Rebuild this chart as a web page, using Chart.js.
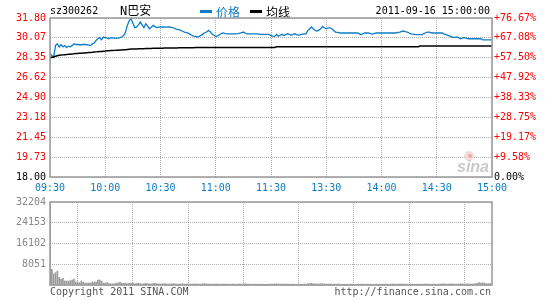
<!DOCTYPE html>
<html>
<head>
<meta charset="utf-8">
<script src="https://cdn.jsdelivr.net/npm/chart.js"></script>
<style>
body { margin: 0; background: #fff; }
#wrap { position: relative; width: 545px; height: 300px; }
canvas { position: absolute; left: 0; }
#price { top: 0; }
#volume { top: 190px; }
</style>
</head>
<body>
<div id="wrap">
<canvas id="price" width="545" height="200"></canvas>
<canvas id="volume" width="545" height="110"></canvas>
</div>
<script>
// 1-minute trading data, 09:30 - 11:30 and 13:00 - 15:00 (241 points)
var xLabels = ['09:30', '10:00', '10:30', '11:00', '11:30', '13:30', '14:00', '14:30', '15:00'];
var priceTicks = [18.00, 19.725, 21.45, 23.175, 24.90, 26.625, 28.35, 30.075, 31.80];
var priceLabels = ['18.00', '19.73', '21.45', '23.18', '24.90', '26.62', '28.35', '30.07', '31.80'];
var pctLabels = ['0.00%', '+9.58%', '+19.17%', '+28.75%', '+38.33%', '+47.92%', '+57.50%', '+67.08%', '+76.67%'];
var volTicks = [0, 8051, 16102, 24153, 32204];
var volLabels = ['', '8051', '16102', '24153', '32204'];

var price = [
    28.70, 28.55, 28.40, 29.42, 29.57, 29.28, 29.50, 29.30, 29.40, 29.22,
    29.35, 29.30, 29.40, 29.57, 29.50, 29.50, 29.48, 29.48, 29.50, 29.50,
    29.48, 29.45, 29.42, 29.55, 29.63, 29.85, 30.00, 30.09, 29.91, 30.15,
    30.10, 30.05, 30.00, 30.09, 30.05, 30.05, 30.06, 30.06, 30.09, 30.15,
    30.29, 30.58, 31.16, 31.55, 31.74, 31.36, 30.96, 31.00, 31.20, 31.45,
    31.20, 30.96, 31.30, 31.10, 30.87, 31.00, 31.16, 31.05, 30.96, 31.00,
    31.02, 31.02, 31.02, 31.00, 31.02, 31.02, 30.98, 30.95, 30.87, 30.82,
    30.78, 30.72, 30.65, 30.58, 30.52, 30.48, 30.40, 30.30, 30.22, 30.20,
    30.15, 30.20, 30.29, 30.40, 30.52, 30.58, 30.72, 30.60, 30.40, 30.30,
    30.20, 30.25, 30.35, 30.45, 30.50, 30.45, 30.43, 30.43, 30.43, 30.42,
    30.43, 30.43, 30.45, 30.48, 30.52, 30.58, 30.50, 30.43, 30.43, 30.43,
    30.43, 30.43, 30.43, 30.43, 30.38, 30.38, 30.38, 30.38, 30.38, 30.38,
    30.26, 30.22, 30.20, 30.38, 30.22, 30.30, 30.38, 30.28, 30.35, 30.43,
    30.38, 30.30, 30.38, 30.43, 30.35, 30.29, 30.35, 30.40, 30.42, 30.43,
    30.70, 30.87, 31.02, 30.85, 30.72, 30.66, 30.75, 30.87, 31.07, 30.95,
    30.87, 30.95, 30.95, 30.87, 30.72, 30.58, 30.55, 30.52, 30.50, 30.50,
    30.50, 30.50, 30.50, 30.50, 30.50, 30.50, 30.50, 30.50, 30.42, 30.35,
    30.45, 30.50, 30.50, 30.50, 30.45, 30.40, 30.45, 30.50, 30.50, 30.50,
    30.50, 30.50, 30.50, 30.50, 30.50, 30.50, 30.50, 30.50, 30.50, 30.55,
    30.58, 30.63, 30.67, 30.62, 30.58, 30.50, 30.43, 30.40, 30.37, 30.35,
    30.35, 30.35, 30.35, 30.45, 30.52, 30.58, 30.58, 30.52, 30.50, 30.50,
    30.50, 30.50, 30.50, 30.50, 30.40, 30.35, 30.30, 30.25, 30.15, 30.12,
    30.12, 30.15, 30.08, 30.00, 30.05, 30.10, 30.05, 30.00, 30.00, 30.00,
    30.00, 30.00, 30.00, 30.00, 30.00, 29.91, 29.91, 29.91, 29.91, 29.91, 29.91
];

var avgPrice = [
    28.35, 28.40, 28.42, 28.48, 28.53, 28.56, 28.58, 28.60, 28.62, 28.63,
    28.65, 28.66, 28.68, 28.69, 28.71, 28.72, 28.74, 28.75, 28.76, 28.77,
    28.79, 28.80, 28.81, 28.82, 28.84, 28.86, 28.88, 28.89, 28.90, 28.92,
    28.93, 28.95, 28.96, 28.97, 28.98, 28.99, 29.00, 29.01, 29.02, 29.03,
    29.04, 29.05, 29.07, 29.09, 29.10, 29.11, 29.12, 29.12, 29.13, 29.13,
    29.14, 29.14, 29.15, 29.15, 29.16, 29.16, 29.17, 29.17, 29.17, 29.18,
    29.18, 29.18, 29.19, 29.19, 29.19, 29.20, 29.20, 29.20, 29.20, 29.20,
    29.21, 29.21, 29.21, 29.21, 29.22, 29.22, 29.22, 29.22, 29.22, 29.23,
    29.23, 29.23, 29.23, 29.23, 29.23, 29.24, 29.24, 29.24, 29.24, 29.24,
    29.24, 29.24, 29.24, 29.24, 29.24, 29.25, 29.25, 29.25, 29.25, 29.25,
    29.25, 29.25, 29.25, 29.25, 29.25, 29.25, 29.25, 29.25, 29.25, 29.25,
    29.25, 29.25, 29.25, 29.25, 29.25, 29.25, 29.25, 29.25, 29.25, 29.25,
    29.25, 29.25, 29.25, 29.30, 29.30, 29.30, 29.30, 29.30, 29.30, 29.30,
    29.30, 29.30, 29.30, 29.30, 29.30, 29.30, 29.30, 29.30, 29.30, 29.30,
    29.30, 29.30, 29.30, 29.30, 29.30, 29.30, 29.30, 29.30, 29.30, 29.30,
    29.30, 29.30, 29.30, 29.30, 29.30, 29.30, 29.30, 29.30, 29.30, 29.30,
    29.30, 29.30, 29.30, 29.30, 29.30, 29.30, 29.30, 29.30, 29.30, 29.30,
    29.30, 29.30, 29.30, 29.30, 29.30, 29.30, 29.30, 29.30, 29.30, 29.30,
    29.30, 29.30, 29.30, 29.30, 29.30, 29.30, 29.30, 29.30, 29.30, 29.30,
    29.30, 29.30, 29.30, 29.30, 29.30, 29.30, 29.30, 29.30, 29.30, 29.30,
    29.30, 29.36, 29.36, 29.36, 29.36, 29.36, 29.36, 29.36, 29.36, 29.36,
    29.36, 29.36, 29.36, 29.36, 29.36, 29.36, 29.36, 29.36, 29.36, 29.36,
    29.36, 29.36, 29.36, 29.36, 29.36, 29.36, 29.36, 29.36, 29.36, 29.36,
    29.36, 29.36, 29.36, 29.36, 29.36, 29.36, 29.36, 29.36, 29.36, 29.36, 29.36
];

var volume = [
    32204, 6100, 4270, 4770, 5430, 2980, 2200, 2600, 1550, 1550,
    1550, 1650, 1940, 2330, 1160, 1160, 900, 1550, 1160, 770,
    770, 770, 770, 1160, 1160, 1160, 1940, 1940, 1550, 770,
    770, 900, 520, 400, 450, 450, 770, 770, 1160, 640,
    640, 770, 520, 640, 770, 640, 520, 640, 770, 520,
    400, 520, 640, 520, 400, 450, 520, 640, 520, 450,
    400, 400, 520, 450, 400, 390, 450, 520, 400, 390,
    350, 400, 450, 390, 350, 400, 390, 350, 400, 450,
    390, 350, 400, 450, 520, 400, 390, 350, 310, 350,
    400, 390, 350, 310, 350, 390, 350, 310, 300, 350,
    310, 300, 350, 390, 350, 400, 450, 390, 350, 310,
    300, 350, 310, 300, 350, 310, 300, 280, 300, 310,
    350, 400, 390, 450, 400, 350, 310, 350, 390, 350,
    300, 310, 350, 300, 310, 350, 300, 280, 310, 350,
    450, 520, 660, 520, 450, 400, 450, 520, 450, 400,
    350, 390, 400, 350, 310, 300, 350, 310, 300, 280,
    300, 310, 300, 350, 310, 300, 280, 300, 310, 350,
    310, 300, 350, 310, 300, 280, 300, 310, 300, 280,
    300, 310, 350, 310, 300, 350, 390, 350, 310, 350,
    390, 400, 350, 310, 350, 300, 310, 350, 310, 300,
    350, 310, 300, 350, 390, 350, 310, 300, 350, 310,
    300, 350, 390, 400, 450, 390, 350, 400, 450, 390,
    350, 400, 390, 450, 400, 350, 390, 450, 400, 390,
    450, 520, 660, 900, 770, 900, 660, 520, 450, 520, 640
];

var mono = '"DejaVu Sans Mono", monospace';
var cjk = '"Noto Sans CJK SC", sans-serif';
var blue = '#0b7cc8';
var gridColor = '#b0b0b0';

function points(arr) {
    return arr.map(function (v, i) { return { x: i, y: v }; });
}

var frame = {
    id: 'frame',
    afterDraw: function (chart) {
        var a = chart.chartArea, c = chart.ctx;
        c.save();
        c.strokeStyle = '#999';
        c.lineWidth = 1.5;
        c.strokeRect(a.left, a.top, a.right - a.left, a.bottom - a.top);
        c.restore();
    }
};

var header = {
    id: 'header',
    beforeDatasetsDraw: function (chart) {
        var c = chart.ctx;
        c.save();
        // sina watermark
        c.fillStyle = '#f6dada';
        c.beginPath();
        c.arc(469, 156, 5, 0, Math.PI * 2);
        c.fill();
        c.fillStyle = '#eaa8a8';
        c.beginPath();
        c.arc(470, 156, 2, 0, Math.PI * 2);
        c.fill();
        c.font = 'italic bold 16px "Liberation Sans"';
        c.fillStyle = '#cacaca';
        c.textAlign = 'right';
        c.textBaseline = 'alphabetic';
        c.fillText('sina', 489, 172);
        c.restore();
    },
    afterDraw: function (chart) {
        var c = chart.ctx;
        c.save();
        c.textBaseline = 'middle';
        c.textAlign = 'left';
        c.fillStyle = '#000';
        c.font = '10px ' + mono;
        c.fillText('sz300262', 50, 11);
        c.font = '12px "DejaVu Sans Mono", "Noto Sans CJK SC"';
        c.fillText('N巴安', 120, 12);

        c.fillStyle = blue;
        c.fillRect(200, 10, 12, 3);
        c.font = '12px ' + cjk;
        c.fillText('价格', 216, 12);
        c.fillStyle = '#000';
        c.fillRect(250, 10, 12, 3);
        c.fillText('均线', 266, 12);

        c.font = '10px ' + mono;
        c.textAlign = 'right';
        c.fillText('2011-09-16 15:00:00', 490, 11);
        c.restore();
    }
};

var footer = {
    id: 'footer',
    afterDraw: function (chart) {
        var c = chart.ctx;
        c.save();
        c.textBaseline = 'middle';
        c.font = '10px ' + mono;
        c.fillStyle = '#555';
        c.textAlign = 'left';
        c.fillText('Copyright 2011 SINA.COM', 50, 102);
        c.textAlign = 'right';
        c.fillText('http://finance.sina.com.cn', 491, 102);
        c.restore();
    }
};

var priceChart = new Chart(document.getElementById('price'), {
    type: 'line',
    data: {
        datasets: [{
            label: '均线',
            data: points(avgPrice),
            borderColor: '#000',
            borderWidth: 1.5,
            pointRadius: 0,
            fill: false
        }, {
            label: '价格',
            data: points(price),
            borderColor: blue,
            borderWidth: 1.3,
            pointRadius: 0,
            fill: false
        }]
    },
    options: {
        responsive: false,
        animation: false,
        devicePixelRatio: 1,
        layout: { padding: { top: 18, left: 0, right: 0, bottom: 0 } },
        plugins: { legend: { display: false }, tooltip: { enabled: false } },
        scales: {
            x: {
                type: 'linear',
                min: 0,
                max: 240,
                afterFit: function (s) { s.height = 23; },
                afterBuildTicks: function (s) {
                    s.ticks = xLabels.map(function (l, i) { return { value: i * 30 }; });
                },
                ticks: {
                    autoSkip: false,
                    maxRotation: 0,
                    padding: 5,
                    color: blue,
                    font: { family: mono, size: 10 },
                    callback: function (v, i) { return xLabels[i]; }
                },
                grid: { color: gridColor, drawTicks: false },
                border: { display: false, dash: [1, 1] }
            },
            y: {
                position: 'left',
                min: 18,
                max: 31.8,
                afterFit: function (s) { s.width = 50; },
                afterBuildTicks: function (s) {
                    s.ticks = priceTicks.map(function (v) { return { value: v }; });
                },
                ticks: {
                    padding: 4,
                    font: { family: mono, size: 10 },
                    color: function (c) { return c.index === 0 ? '#000' : '#f00'; },
                    callback: function (v, i) { return priceLabels[i]; }
                },
                grid: { color: gridColor, drawTicks: false },
                border: { display: false, dash: [1, 1] }
            },
            y1: {
                position: 'right',
                min: 18,
                max: 31.8,
                afterFit: function (s) { s.width = 53; },
                afterBuildTicks: function (s) {
                    s.ticks = priceTicks.map(function (v) { return { value: v }; });
                },
                ticks: {
                    padding: 2,
                    font: { family: mono, size: 10 },
                    color: function (c) { return c.index === 0 ? '#000' : '#f00'; },
                    callback: function (v, i) { return pctLabels[i]; }
                },
                grid: { display: false, drawTicks: false },
                border: { display: false }
            }
        }
    },
    plugins: [header, frame]
});

var volumeChart = new Chart(document.getElementById('volume'), {
    type: 'bar',
    data: {
        datasets: [{
            label: '成交量',
            data: points(volume),
            backgroundColor: '#999',
            barThickness: 1
        }]
    },
    options: {
        responsive: false,
        animation: false,
        devicePixelRatio: 1,
        layout: { padding: { top: 12, left: 0, right: 53, bottom: 0 } },
        plugins: { legend: { display: false }, tooltip: { enabled: false } },
        scales: {
            x: {
                type: 'linear',
                min: 0,
                max: 240,
                offset: false,
                afterFit: function (s) { s.height = 15; },
                afterBuildTicks: function (s) {
                    s.ticks = xLabels.map(function (l, i) { return { value: i * 30 }; });
                },
                ticks: { display: false },
                grid: { color: gridColor, drawTicks: false },
                border: { display: false, dash: [1, 1] }
            },
            y: {
                min: 0,
                max: 32204,
                afterFit: function (s) { s.width = 50; },
                afterBuildTicks: function (s) {
                    s.ticks = volTicks.map(function (v) { return { value: v }; });
                },
                ticks: {
                    padding: 4,
                    color: '#888',
                    font: { family: mono, size: 10 },
                    callback: function (v, i) { return volLabels[i]; }
                },
                grid: { color: gridColor, drawTicks: false },
                border: { display: false, dash: [1, 1] }
            }
        }
    },
    plugins: [footer, frame]
});
</script>
</body>
</html>
